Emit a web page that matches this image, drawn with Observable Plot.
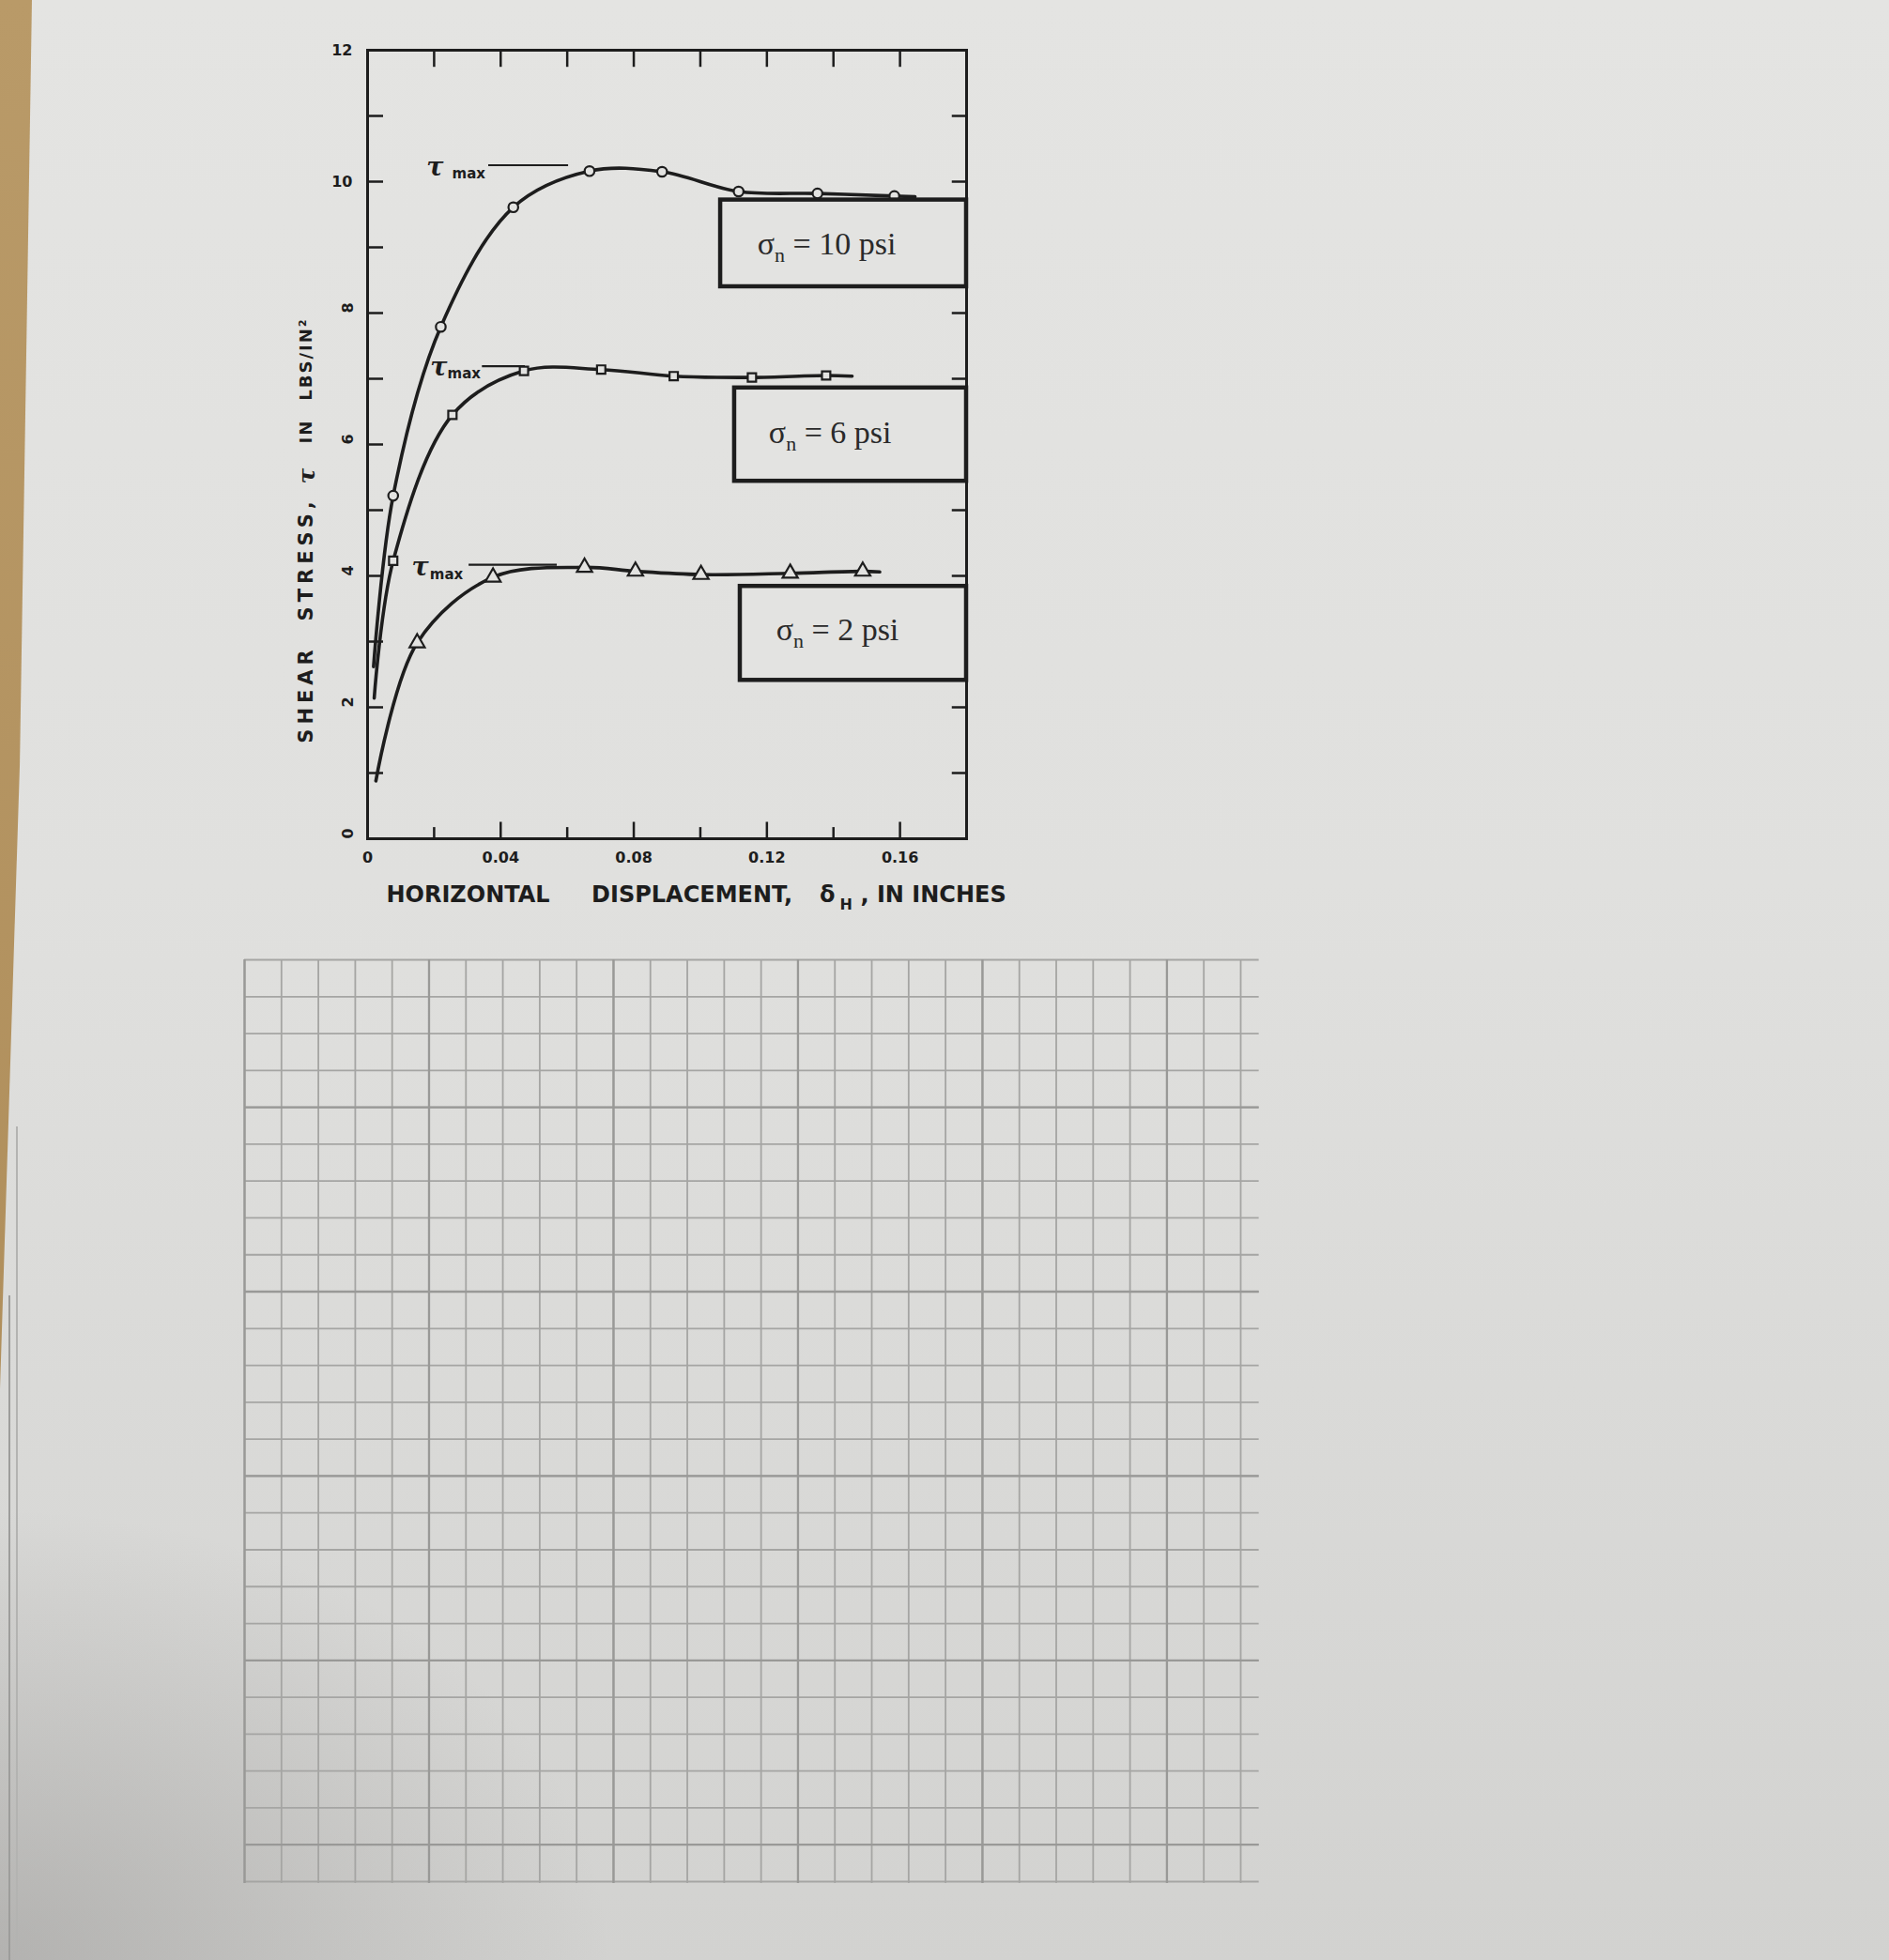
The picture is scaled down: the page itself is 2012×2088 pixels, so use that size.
<!DOCTYPE html>
<html>
<head>
<meta charset="utf-8">
<script src="https://cdn.jsdelivr.net/npm/d3@7"></script>
<script src="https://cdn.jsdelivr.net/npm/@observablehq/plot@0.6"></script>
<style>
  html, body { margin: 0; padding: 0; }
  #page {
    position: relative; width: 2012px; height: 2088px; overflow: hidden;
    background:
      radial-gradient(ellipse 650px 480px at 0% 100%, rgba(120,118,116,0.35), rgba(120,118,116,0) 100%),
      linear-gradient(to bottom, #e4e4e2 0%, #e0e0de 45%, #d9d9d7 75%, #d2d2d0 100%);
  }
  #strip {
    position: absolute; left: 0; top: 0; width: 34px; height: 1480px;
    background: linear-gradient(to bottom, #b99a68, #b08f5c);
    clip-path: polygon(0 0, 100% 0, 62% 55%, 0 100%);
  }
  .edge { position: absolute; width: 2px; background: #9d9d9b; }
  #chart, #grid { position: absolute; left: 0; }
  #chart { top: 0; }
  #grid { top: 1000px; }
</style>
</head>
<body>
<div id="page">
  <div id="strip"></div>
  <div class="edge" style="left:9px; top:1380px; height:708px;"></div>
  <div class="edge" style="left:17px; top:1200px; height:888px; background:#b3b3b1"></div>
  <div id="chart"></div>
  <div id="grid"></div>
</div>
<script>
// ---------------- data ----------------
// normal stress 10 psi (circles)
const series10X = [0.0018, 0.0077, 0.022, 0.0438, 0.0667, 0.0885, 0.1115, 0.1352, 0.1583, 0.1645];
const series10Y = [2.62, 5.22, 7.79, 9.61, 10.16, 10.15, 9.85, 9.82, 9.78, 9.77];
const series10Marked = [false, true, true, true, true, true, true, true, true, false];
// normal stress 6 psi (squares)
const series6X = [0.0020, 0.0077, 0.0255, 0.047, 0.0702, 0.092, 0.1155, 0.1378, 0.1456];
const series6Y = [2.14, 4.23, 6.45, 7.12, 7.14, 7.04, 7.02, 7.05, 7.04];
const series6Marked = [false, true, true, true, true, true, true, true, false];
// normal stress 2 psi (triangles)
const series2X = [0.0025, 0.0149, 0.0377, 0.0652, 0.0805, 0.1002, 0.127, 0.1488, 0.1539];
const series2Y = [0.88, 2.98, 3.98, 4.13, 4.07, 4.02, 4.04, 4.07, 4.06];
const series2Marked = [false, true, true, true, true, true, true, true, false];

// tick values
const xTickLabels = [0, 0.04, 0.08, 0.12, 0.16];
const xMinorTicks = [0.02, 0.04, 0.06, 0.08, 0.10, 0.12, 0.14, 0.16];
const yTickLabelsUpright = [10, 12];
const yTickLabelsRotated = [0, 2, 4, 6, 8];
const yFrameTicks = [1, 2, 3, 4, 5, 6, 7, 8, 9, 10, 11];

// boxed legends
const boxLabels = ["σn = 10 psi", "σn = 6 psi", "σn = 2 psi"];
const boxX1 = [0.1061, 0.1103, 0.112];
const boxX2 = [0.18, 0.18, 0.18];
const boxY1 = [8.40, 5.44, 2.41];
const boxY2 = [9.72, 6.86, 3.84];
const boxTextX = [0.1380, 0.1390, 0.1412];
const boxTextY = [9.05, 6.17, 3.17];

// tau max annotations
const tauX = [0.0203, 0.0214, 0.0158];
const tauY = [10.22, 7.18, 4.13];
const maxX = [0.0304, 0.029, 0.0237];
const maxY = [10.12, 7.08, 4.02];
const leaderX1 = [0.0364, 0.0345, 0.0305];
const leaderX2 = [0.0604, 0.0474, 0.057];
const leaderY = [10.25, 7.19, 4.17];

// axis titles
const xTitleText = ["HORIZONTAL", "DISPLACEMENT,", "δ", ", IN INCHES"];
const xTitleX = [0.0302, 0.0975, 0.1382, 0.1700];
const xTitleY = -0.86;
const xTitleSub = "H";
const xTitleSubX = 0.1438;
const yTitleText = ["SHEAR", "STRESS,"];
const yTitleY = [2.2, 4.26];
const yTitleSmallText = ["IN", "LBS/IN²"];
const yTitleSmallY = [6.2, 7.3];
const yTitleTauY = 5.52;
const yTitleX = -0.0183;

// ---------------- build rows ----------------
const ink = "#1d1d1d";
const paper = "#e3e3e1";
function rows(xs, ys, marked, name) {
  return xs.map((x, i) => ({series: name, x, y: ys[i], marked: marked[i]}));
}
const curves = [
  ...rows(series10X, series10Y, series10Marked, "10"),
  ...rows(series6X, series6Y, series6Marked, "6"),
  ...rows(series2X, series2Y, series2Marked, "2")
];
const pts10 = curves.filter(d => d.series === "10" && d.marked);
const pts6 = curves.filter(d => d.series === "6" && d.marked);
const pts2 = curves.filter(d => d.series === "2" && d.marked);
const boxes = boxLabels.map((label, i) => ({label, x1: boxX1[i], x2: boxX2[i], y1: boxY1[i], y2: boxY2[i], tx: boxTextX[i], ty: boxTextY[i]}));
const taus = tauX.map((x, i) => ({x, y: tauY[i], mx: maxX[i], my: maxY[i], lx1: leaderX1[i], lx2: leaderX2[i], ly: leaderY[i]}));
const xTitle = xTitleText.map((t, i) => ({t, x: xTitleX[i]}));
const yTitle = yTitleText.map((t, i) => ({t, y: yTitleY[i]}));
const yTitleSmall = yTitleSmallText.map((t, i) => ({t, y: yTitleSmallY[i]}));
const isMajorX = d => Math.abs(Math.round(d / 0.04) * 0.04 - d) < 1e-9;
const fmtX = d => d === 0 ? "0" : d.toFixed(2);
const sans = "DejaVu Sans, sans-serif";

const chart = Plot.plot({
  width: 1100,
  height: 990,
  marginLeft: 391,
  marginRight: 71,
  marginTop: 53,
  marginBottom: 97,
  x: {domain: [0, 0.18], axis: null},
  y: {domain: [0, 12], axis: null},
  style: {background: "transparent", overflow: "visible", color: ink, fontFamily: sans},
  marks: [
    // inward ticks on all four sides
    Plot.ruleX(xMinorTicks, {x: d => d, y1: 0, y2: d => isMajorX(d) ? 0.25 : 0.17, stroke: ink, strokeWidth: 2.5}),
    Plot.ruleX(xMinorTicks, {x: d => d, y1: 12, y2: 11.74, stroke: ink, strokeWidth: 2.5}),
    Plot.ruleY(yFrameTicks, {y: d => d, x1: 0, x2: 0.0048, stroke: ink, strokeWidth: 2.5}),
    Plot.ruleY(yFrameTicks, {y: d => d, x1: 0.18, x2: 0.1757, stroke: ink, strokeWidth: 2.5}),
    Plot.frame({stroke: ink, strokeWidth: 3}),
    // tick labels
    Plot.text(xTickLabels, {x: d => d, frameAnchor: "bottom", dy: 25, text: fmtX, fontSize: 16, fontWeight: "bold", fill: ink}),
    Plot.text(yTickLabelsUpright, {y: d => d, frameAnchor: "left", dx: -16, textAnchor: "end", text: d => String(d), fontSize: 16, fontWeight: "bold", fill: ink}),
    Plot.text(yTickLabelsRotated, {y: d => d, frameAnchor: "left", dx: -21, rotate: -90, text: d => String(d), fontSize: 16, fontWeight: "bold", fill: ink}),
    // curves
    Plot.line(curves, {x: "x", y: "y", z: "series", curve: "catmull-rom", stroke: ink, strokeWidth: 3.6}),
    // tau max leader lines
    Plot.ruleY(taus, {x1: "lx1", x2: "lx2", y: "ly", stroke: ink, strokeWidth: 2.2}),
    // markers
    Plot.dot(pts10, {x: "x", y: "y", symbol: "circle", r: 5.2, fill: paper, stroke: ink, strokeWidth: 2.2}),
    Plot.dot(pts6, {x: "x", y: "y", symbol: "square", r: 5, fill: paper, stroke: ink, strokeWidth: 2.2}),
    Plot.dot(pts2, {x: "x", y: "y", symbol: "triangle", r: 6, fill: paper, stroke: ink, strokeWidth: 2.2}),
    // tau max labels
    Plot.text(taus, {x: "x", y: "y", text: () => "τ", fontFamily: "DejaVu Serif, serif", fontStyle: "italic", fontWeight: "bold", fontSize: 27, fill: ink}),
    Plot.text(taus, {x: "mx", y: "my", text: () => "max", fontSize: 15, fontWeight: "bold", fill: ink}),
    // boxed legends
    Plot.rect(boxes, {x1: "x1", x2: "x2", y1: "y1", y2: "y2", fill: paper, stroke: ink, strokeWidth: 4.5}),
    Plot.text(boxes, {x: "tx", y: "ty", text: "label", fontFamily: "Liberation Serif, serif", fontSize: 34, fill: "#2a2a2a"}),
    // axis titles
    Plot.text(xTitle, {x: "x", y: () => xTitleY, text: "t", fontSize: 24, fontWeight: "bold", fill: ink}),
    Plot.text([xTitleSub], {x: () => xTitleSubX, y: () => xTitleY - 0.14, text: d => d, fontSize: 16, fontWeight: "bold", fill: ink}),
    Plot.text(yTitle, {x: () => yTitleX, y: "y", text: "t", rotate: -90, fontSize: 21, fontWeight: "bold", fill: ink}),
    Plot.text(yTitleSmall, {x: () => yTitleX, y: "y", text: "t", rotate: -90, fontSize: 18, fontWeight: "bold", fill: ink}),
    Plot.text(["τ"], {x: () => yTitleX, y: () => yTitleTauY, text: d => d, rotate: -90, fontFamily: "DejaVu Serif, serif", fontStyle: "italic", fontWeight: "bold", fontSize: 25, fill: ink})
  ]
});

// typographic touches: subscript n in the boxed labels, letter spacing in the y title
chart.querySelectorAll("text").forEach(node => {
  const s = node.textContent;
  if (boxLabels.includes(s)) {
    const t = d3.select(node);
    t.text(null);
    t.append("tspan").text(s.slice(0, 1));
    t.append("tspan").attr("font-size", 22).attr("dy", 8).text(s.slice(1, 2));
    t.append("tspan").attr("dy", -8).text("\u00a0" + s.slice(3));
  } else if (yTitleText.includes(s)) {
    node.setAttribute("letter-spacing", "5");
  } else if (yTitleSmallText.includes(s)) {
    node.setAttribute("letter-spacing", "2");
  }
});
document.getElementById("chart").appendChild(chart);

// ---------------- graph paper below ----------------
const gridCols = d3.range(0, 28);
const gridRows = d3.range(0, 26);
const majorCols = gridCols.filter(c => c % 5 === 0);
const majorRows = [4, 9, 14, 19, 24];
const gridInk = "#a5a5a3";
const grid = Plot.plot({
  width: 1400,
  height: 1040,
  marginLeft: 260,
  marginRight: 79,
  marginTop: 22,
  marginBottom: 36,
  x: {domain: [0, 27], axis: null},
  y: {domain: [25, 0], axis: null},
  style: {background: "transparent", overflow: "visible"},
  marks: [
    Plot.ruleX(gridCols, {x: d => d, y1: 0, y2: 25.05, stroke: gridInk, strokeWidth: 1.8}),
    Plot.ruleY(gridRows, {y: d => d, x1: 0, x2: 27.5, stroke: gridInk, strokeWidth: 1.8}),
    Plot.ruleX(majorCols, {x: d => d, y1: 0, y2: 25.05, stroke: "#999997", strokeWidth: 2.3}),
    Plot.ruleY(majorRows, {y: d => d, x1: 0, x2: 27.5, stroke: "#999997", strokeWidth: 2.3})
  ]
});
document.getElementById("grid").appendChild(grid);
</script>
</body>
</html>
